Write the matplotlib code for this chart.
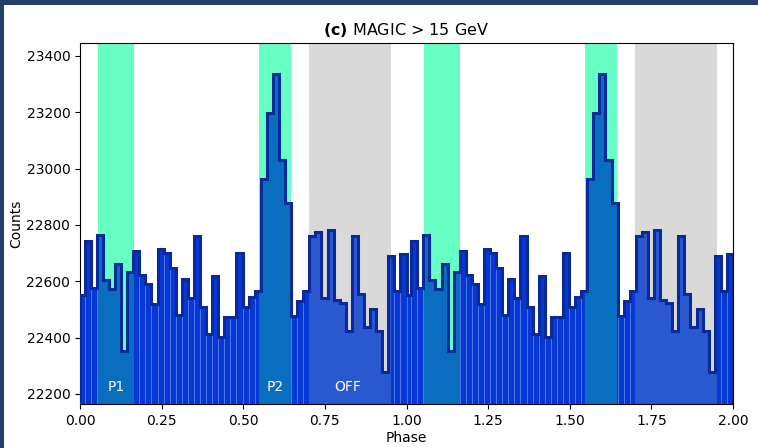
import numpy as np
import matplotlib.pyplot as plt
from matplotlib.patches import Rectangle

# counts per phase bin (one rotation, first bin is a partial one)
counts = [22550, 22744, 22576, 22765, 22605, 22574, 22662, 22353, 22631, 22709,
          22622, 22591, 22520, 22715, 22702, 22647, 22480, 22608, 22542, 22761,
          22510, 22411, 22619, 22403, 22472, 22472, 22700, 22508, 22545, 22567,
          22964, 23199, 23336, 23031, 22877, 22476, 22531, 22566, 22762, 22774,
          22542, 22782, 22535, 22521, 22424, 22762, 22556, 22437, 22502, 22423,
          22277, 22690, 22567, 22696]
bin_width = 0.0186
n_cycles = 2

p1_range = (0.055, 0.165)
p2_range = (0.548, 0.645)
off_range = (0.70, 0.952)
region_labels = ["P1", "P2", "OFF"]

y_lo, y_hi = 22164, 23446

# bin edges for one cycle: full bins counted back from phase 1, leftover at 0
n_full = len(counts) - 1
edges_one = np.concatenate([[0.0], 1.0 - bin_width * np.arange(n_full, -1, -1)])

edges = np.concatenate([edges_one[:-1] + c for c in range(n_cycles)] + [[float(n_cycles)]])
values = np.tile(counts, n_cycles)

fig = plt.figure(figsize=(7.58, 4.48), dpi=100)
fig.patch.set_facecolor('#22406a')
fig.patches.append(Rectangle((4 / 758, 0), 1, 1 - 5 / 448, transform=fig.transFigure,
                             facecolor='white', edgecolor='none', zorder=-10))

ax = fig.add_axes([80 / 758, 1 - 404 / 448, 653 / 758, 361 / 448])

# region backgrounds (seen above the bars)
regions = []
for c in range(n_cycles):
    regions.append((p1_range[0] + c, p1_range[1] + c, '#66ffc4', '#0a6ec0'))
    regions.append((p2_range[0] + c, p2_range[1] + c, '#66ffc4', '#0a6ec0'))
    regions.append((off_range[0] + c, off_range[1] + c, '#d9d9d9', '#2a58cf'))

for x0, x1, bg, _ in regions:
    ax.axvspan(x0, x1, color=bg, lw=0, zorder=0.5)

# filled bars
ax.bar(edges[:-1], values, width=np.diff(edges), align='edge',
       color='#0638d6', edgecolor=(1, 1, 1, 0.07), linewidth=0.5, zorder=1)

# tinted bars inside the regions
for x0, x1, _, tint in regions:
    fill = ax.stairs(values, edges, baseline=y_lo - 100, fill=True, color=tint, lw=0, zorder=1.5)
    fill.set_clip_path(Rectangle((x0, y_lo), x1 - x0, y_hi - y_lo, transform=ax.transData))

# step outline
ax.stairs(values, edges, baseline=0, color='#0a2a9c', linewidth=2.2, zorder=3)

label_x = [np.mean(p1_range), np.mean(p2_range), np.mean(off_range) - 0.005]
for lx, lab in zip(label_x, region_labels):
    ax.text(lx, 22225, lab, color='white', fontsize=10, ha='center', va='center', zorder=4)

ax.set_xlim(0, 2)
ax.set_ylim(y_lo, y_hi)
ax.set_xticks(np.arange(0, 2.01, 0.25))
ax.set_xticklabels([f"{t:.2f}" for t in np.arange(0, 2.01, 0.25)])
ax.set_yticks(np.arange(22200, 23401, 200))
ax.tick_params(labelsize=10)

ax.set_xlabel("Phase", fontsize=10, labelpad=2)
ax.set_ylabel("Counts", fontsize=10, labelpad=2)
ax.set_title(r"$\mathbf{(c)}$ MAGIC > 15 GeV", fontsize=11.5, pad=6)

fig.savefig("out.png", dpi=100, facecolor=fig.get_facecolor())
